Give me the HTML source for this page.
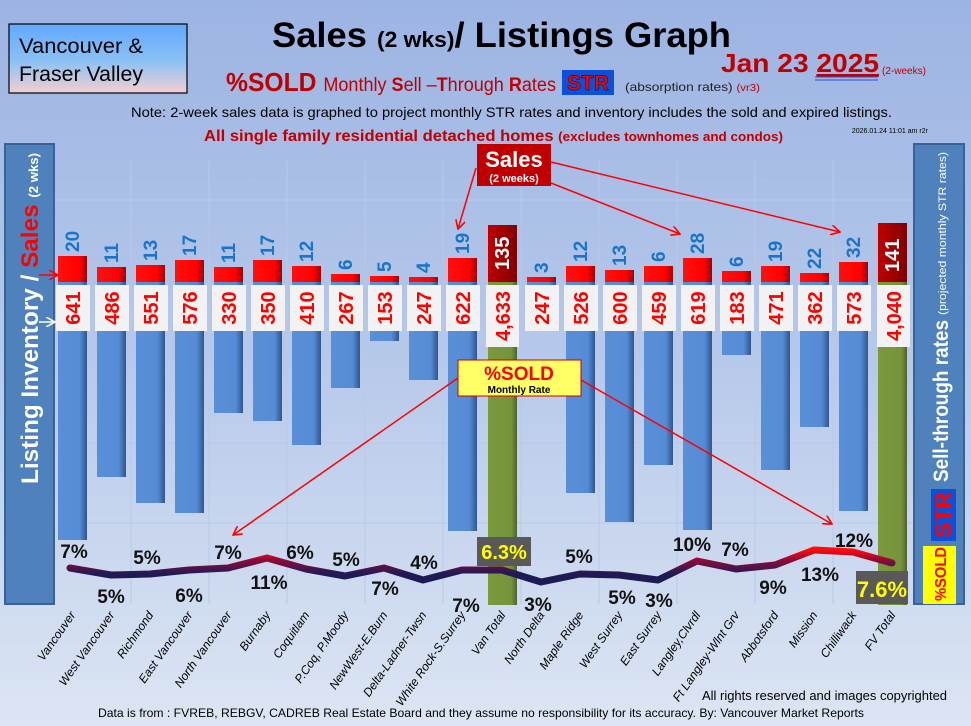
<!DOCTYPE html>
<html><head><meta charset="utf-8"><style>
html,body{margin:0;padding:0}
body{width:971px;height:726px;overflow:hidden;background:#a4b9e4}
svg{display:block}
text{font-family:"Liberation Sans",sans-serif}
</style></head><body>
<svg width="971" height="726" viewBox="0 0 971 726" xmlns="http://www.w3.org/2000/svg">
<defs>
<linearGradient id="bg" x1="0" y1="0" x2="0" y2="1"><stop offset="0" stop-color="#9cb4e3"/><stop offset="0.5" stop-color="#b7c9ea"/><stop offset="1" stop-color="#dce5f3"/></linearGradient>
<linearGradient id="vb" x1="0" y1="0" x2="0" y2="1"><stop offset="0" stop-color="#62a8ff"/><stop offset="0.55" stop-color="#8cc2f4"/><stop offset="1" stop-color="#f6cdd2"/></linearGradient>
<linearGradient id="blue" x1="0" y1="0" x2="1" y2="0"><stop offset="0" stop-color="#5a8fd8"/><stop offset="0.75" stop-color="#558cd5"/><stop offset="1" stop-color="#2f5490"/></linearGradient>
<linearGradient id="red" x1="0" y1="0" x2="1" y2="0"><stop offset="0" stop-color="#ff1010"/><stop offset="0.75" stop-color="#ff0000"/><stop offset="1" stop-color="#a00000"/></linearGradient>
<linearGradient id="dred" x1="0" y1="0" x2="1" y2="0"><stop offset="0" stop-color="#c00000"/><stop offset="1" stop-color="#800000"/></linearGradient>
<linearGradient id="grn" x1="0" y1="0" x2="1" y2="0"><stop offset="0" stop-color="#7a9a3c"/><stop offset="0.8" stop-color="#76933c"/><stop offset="1" stop-color="#4f6428"/></linearGradient>
<linearGradient id="ln" gradientUnits="userSpaceOnUse" x1="0" y1="550" x2="0" y2="574"><stop offset="0" stop-color="#ff0a0a"/><stop offset="0.45" stop-color="#8a0a3a"/><stop offset="1" stop-color="#1e1a55"/></linearGradient>
<marker id="ar" markerWidth="10" markerHeight="10" refX="9" refY="5" orient="auto" markerUnits="userSpaceOnUse"><path d="M0,0 L9,5 L0,10" fill="none" stroke="#ff0000" stroke-width="1.6"/></marker>
<marker id="aw" markerWidth="10" markerHeight="10" refX="9" refY="5" orient="auto" markerUnits="userSpaceOnUse"><path d="M0,0 L9,5 L0,10" fill="none" stroke="#fff" stroke-width="1.6"/></marker>
</defs>
<rect width="971" height="726" fill="url(#bg)"/>

<!-- header -->
<rect x="9" y="24" width="178" height="69" fill="url(#vb)" stroke="#000" stroke-width="1.2"/>
<text x="19" y="53" font-size="21" fill="#000" textLength="124" lengthAdjust="spacingAndGlyphs">Vancouver &amp;</text>
<text x="19" y="81" font-size="21" fill="#000" textLength="124" lengthAdjust="spacingAndGlyphs">Fraser Valley</text>
<text x="272" y="47" font-size="35" font-weight="bold" fill="#000" textLength="459" lengthAdjust="spacingAndGlyphs">Sales <tspan font-size="22">(2 wks)</tspan>/ Listings Graph</text>
<text x="226" y="91" font-size="26" font-weight="bold" fill="#c00000" textLength="330" lengthAdjust="spacingAndGlyphs">%SOLD <tspan font-size="19" font-weight="normal">Monthly <tspan font-weight="bold">S</tspan>ell –<tspan font-weight="bold">T</tspan>hrough <tspan font-weight="bold">R</tspan>ates</tspan></text>
<rect x="562" y="70" width="52" height="25" fill="#0c4fd9"/>
<text x="588" y="90" text-anchor="middle" font-size="21" font-weight="bold" fill="#ff0000" stroke="#000" stroke-width="0.4">STR</text>
<text x="625" y="91" font-size="12" fill="#222" textLength="135" lengthAdjust="spacingAndGlyphs">(absorption rates) <tspan fill="#c00000" font-size="10">(vr3)</tspan></text>
<text x="721" y="72" font-size="26" font-weight="bold" fill="#c00000" textLength="158" lengthAdjust="spacingAndGlyphs">Jan 23 <tspan text-decoration="underline">2025</tspan></text>
<line x1="815" y1="77" x2="878" y2="77" stroke="#2a4fd9" stroke-width="1"/>
<line x1="815" y1="80" x2="878" y2="80" stroke="#2a4fd9" stroke-width="1"/>
<text x="882" y="74" font-size="10" fill="#c00000">(2-weeks)</text>
<text x="131" y="117" font-size="14" fill="#000" textLength="761" lengthAdjust="spacingAndGlyphs">Note: 2-week sales data is graphed to project monthly STR rates and inventory includes the sold and expired listings.</text>
<text x="204" y="141" font-size="16" font-weight="bold" fill="#c00000" textLength="579" lengthAdjust="spacingAndGlyphs">All single family residential detached homes <tspan font-size="13">(excludes townhomes and condos)</tspan></text>
<text x="928" y="133" text-anchor="end" font-size="7" fill="#000">2026.01.24 11:01 am r2r</text>

<!-- gridlines -->
<g stroke="#b8c9e8" stroke-width="1">
<line x1="131" y1="160" x2="131" y2="604"/><line x1="209" y1="160" x2="209" y2="604"/><line x1="287" y1="160" x2="287" y2="604"/><line x1="365" y1="160" x2="365" y2="604"/><line x1="443" y1="160" x2="443" y2="604"/><line x1="521" y1="160" x2="521" y2="604"/><line x1="599" y1="160" x2="599" y2="604"/><line x1="677" y1="160" x2="677" y2="604"/><line x1="755" y1="160" x2="755" y2="604"/><line x1="833" y1="160" x2="833" y2="604"/>
<line x1="55" y1="200" x2="912" y2="200"/><line x1="55" y1="362" x2="912" y2="362"/><line x1="55" y1="443" x2="912" y2="443"/><line x1="55" y1="523" x2="912" y2="523"/>
</g>

<!-- blue bars -->
<g fill="url(#blue)">
<rect x="58" y="282" width="29" height="258"/>
<rect x="97" y="282" width="29" height="195"/>
<rect x="136" y="282" width="29" height="221"/>
<rect x="175" y="282" width="29" height="231"/>
<rect x="214" y="282" width="29" height="131"/>
<rect x="253" y="282" width="29" height="139"/>
<rect x="292" y="282" width="29" height="163"/>
<rect x="331" y="282" width="29" height="106"/>
<rect x="370" y="282" width="29" height="59"/>
<rect x="409" y="282" width="29" height="98"/>
<rect x="448" y="282" width="29" height="249"/>
<rect x="527" y="282" width="29" height="49"/>
<rect x="566" y="282" width="29" height="211"/>
<rect x="605" y="282" width="29" height="240"/>
<rect x="644" y="282" width="29" height="183"/>
<rect x="683" y="282" width="29" height="248"/>
<rect x="722" y="282" width="29" height="73"/>
<rect x="761" y="282" width="29" height="188"/>
<rect x="800" y="282" width="29" height="145"/>
<rect x="839" y="282" width="29" height="229"/>
</g>
<rect x="488" y="282" width="29" height="323" fill="url(#grn)"/>
<rect x="878" y="282" width="29" height="323" fill="url(#grn)"/>
<g fill="url(#red)">
<rect x="58" y="256" width="29" height="26"/>
<rect x="97" y="267" width="29" height="15"/>
<rect x="136" y="265" width="29" height="17"/>
<rect x="175" y="260" width="29" height="22"/>
<rect x="214" y="267" width="29" height="15"/>
<rect x="253" y="260" width="29" height="22"/>
<rect x="292" y="266" width="29" height="16"/>
<rect x="331" y="274" width="29" height="8"/>
<rect x="370" y="276" width="29" height="6"/>
<rect x="409" y="277" width="29" height="5"/>
<rect x="448" y="258" width="29" height="24"/>
<rect x="527" y="277" width="29" height="5"/>
<rect x="566" y="266" width="29" height="16"/>
<rect x="605" y="270" width="29" height="12"/>
<rect x="644" y="266" width="29" height="16"/>
<rect x="683" y="258" width="29" height="24"/>
<rect x="722" y="271" width="29" height="11"/>
<rect x="761" y="266" width="29" height="16"/>
<rect x="800" y="273" width="29" height="9"/>
<rect x="839" y="262" width="29" height="20"/>
</g>
<rect x="488" y="225" width="29" height="57" fill="url(#dred)"/>
<rect x="878" y="223" width="29" height="59" fill="url(#dred)"/>

<g font-size="19" font-weight="bold" fill="#1a74c8">
<text transform="translate(79,252) rotate(-90)">20</text>
<text transform="translate(118,263) rotate(-90)">11</text>
<text transform="translate(157,261) rotate(-90)">13</text>
<text transform="translate(196,256) rotate(-90)">17</text>
<text transform="translate(235,263) rotate(-90)">11</text>
<text transform="translate(274,256) rotate(-90)">17</text>
<text transform="translate(313,262) rotate(-90)">12</text>
<text transform="translate(352,270) rotate(-90)">6</text>
<text transform="translate(391,272) rotate(-90)">5</text>
<text transform="translate(430,273) rotate(-90)">4</text>
<text transform="translate(469,254) rotate(-90)">19</text>
<text transform="translate(548,273) rotate(-90)">3</text>
<text transform="translate(587,262) rotate(-90)">12</text>
<text transform="translate(626,266) rotate(-90)">13</text>
<text transform="translate(665,262) rotate(-90)">6</text>
<text transform="translate(704,254) rotate(-90)">28</text>
<text transform="translate(743,267) rotate(-90)">6</text>
<text transform="translate(782,262) rotate(-90)">19</text>
<text transform="translate(821,269) rotate(-90)">22</text>
<text transform="translate(860,258) rotate(-90)">32</text>
</g>
<g font-size="20" font-weight="bold" fill="#fff">
<text transform="translate(509,270) rotate(-90)">135</text>
<text transform="translate(899,272) rotate(-90)">141</text>
</g>

<g fill="#f2f2f2">
<rect x="56" y="285" width="34" height="46"/><rect x="95" y="285" width="34" height="46"/><rect x="134" y="285" width="34" height="46"/><rect x="173" y="285" width="34" height="46"/><rect x="212" y="285" width="34" height="46"/><rect x="251" y="285" width="34" height="46"/><rect x="290" y="285" width="34" height="46"/><rect x="329" y="285" width="34" height="46"/><rect x="368" y="285" width="34" height="46"/><rect x="407" y="285" width="34" height="46"/><rect x="446" y="285" width="34" height="46"/>
<rect x="486" y="285" width="33" height="62"/>
<rect x="525" y="285" width="34" height="46"/><rect x="564" y="285" width="34" height="46"/><rect x="603" y="285" width="34" height="46"/><rect x="642" y="285" width="34" height="46"/><rect x="681" y="285" width="34" height="46"/><rect x="720" y="285" width="34" height="46"/><rect x="759" y="285" width="34" height="46"/><rect x="798" y="285" width="34" height="46"/><rect x="837" y="285" width="34" height="46"/>
<rect x="877" y="285" width="33" height="62"/>
</g>
<g font-size="20" font-weight="bold" fill="#ff0000" text-anchor="middle">
<text transform="translate(80,308) rotate(-90)">641</text>
<text transform="translate(119,308) rotate(-90)">486</text>
<text transform="translate(158,308) rotate(-90)">551</text>
<text transform="translate(197,308) rotate(-90)">576</text>
<text transform="translate(236,308) rotate(-90)">330</text>
<text transform="translate(275,308) rotate(-90)">350</text>
<text transform="translate(314,308) rotate(-90)">410</text>
<text transform="translate(353,308) rotate(-90)">267</text>
<text transform="translate(392,308) rotate(-90)">153</text>
<text transform="translate(431,308) rotate(-90)">247</text>
<text transform="translate(470,308) rotate(-90)">622</text>
<text transform="translate(510,316) rotate(-90)">4,633</text>
<text transform="translate(549,308) rotate(-90)">247</text>
<text transform="translate(588,308) rotate(-90)">526</text>
<text transform="translate(627,308) rotate(-90)">600</text>
<text transform="translate(666,308) rotate(-90)">459</text>
<text transform="translate(705,308) rotate(-90)">619</text>
<text transform="translate(744,308) rotate(-90)">183</text>
<text transform="translate(783,308) rotate(-90)">471</text>
<text transform="translate(822,308) rotate(-90)">362</text>
<text transform="translate(861,308) rotate(-90)">573</text>
<text transform="translate(901,316) rotate(-90)">4,040</text>
</g>

<polyline points="70,568 111,575 150,574 189,570 228,568 267,558 306,569 345,576 384,568 423,580 462,570 502,570 541,582 580,574 619,575 658,580 697,561 736,569 775,565 814,550 853,552 892,563" fill="none" stroke="url(#ln)" stroke-width="7" stroke-linejoin="round" stroke-linecap="round"/>

<g font-size="19" font-weight="bold" fill="#111" text-anchor="middle">
<text x="74" y="558">7%</text>
<text x="111" y="603">5%</text>
<text x="147" y="564">5%</text>
<text x="189" y="602">6%</text>
<text x="228" y="559">7%</text>
<text x="269" y="589">11%</text>
<text x="300" y="559">6%</text>
<text x="346" y="566">5%</text>
<text x="385" y="595">7%</text>
<text x="424" y="569">4%</text>
<text x="466" y="612">7%</text>
<text x="538" y="611">3%</text>
<text x="579" y="563">5%</text>
<text x="622" y="604">5%</text>
<text x="659" y="607">3%</text>
<text x="692" y="551">10%</text>
<text x="735" y="556">7%</text>
<text x="773" y="594">9%</text>
<text x="820" y="581">13%</text>
<text x="854" y="547">12%</text>
</g>
<rect x="477" y="537" width="54" height="29" fill="#595959"/>
<text x="504" y="559" text-anchor="middle" font-size="20" font-weight="bold" fill="#ffff00">6.3%</text>
<rect x="856" y="571" width="52" height="33" fill="#595959"/>
<text x="882" y="597" text-anchor="middle" font-size="22" font-weight="bold" fill="#ffff00">7.6%</text>

<rect x="477" y="144" width="74" height="42" fill="#c00000"/>
<text x="514" y="167" text-anchor="middle" font-size="22" font-weight="bold" fill="#fff">Sales</text>
<text x="514" y="182" text-anchor="middle" font-size="11" font-weight="bold" fill="#fff">(2 weeks)</text>
<g stroke="#ff0000" stroke-width="1.5" fill="none">
<line x1="476" y1="168" x2="458" y2="229" marker-end="url(#ar)"/>
<line x1="551" y1="183" x2="680" y2="234" marker-end="url(#ar)"/>
<line x1="551" y1="162" x2="840" y2="232" marker-end="url(#ar)"/>
<line x1="458" y1="378" x2="233" y2="535" marker-end="url(#ar)"/>
<line x1="581" y1="380" x2="832" y2="524" marker-end="url(#ar)"/>
<line x1="935" y1="556" x2="918" y2="573" marker-end="url(#ar)"/>
</g>
<rect x="458" y="360" width="123" height="36" fill="#ffff66" stroke="#d00000" stroke-width="1"/>
<text x="519" y="380" text-anchor="middle" font-size="19" font-weight="bold" fill="#ff0000">%SOLD</text>
<text x="519" y="393" text-anchor="middle" font-size="10" font-weight="bold" fill="#000">Monthly Rate</text>

<rect x="5" y="144" width="49" height="460" fill="#4f81bd" stroke="#3a6296" stroke-width="2"/>
<text transform="translate(38,484) rotate(-90)" font-size="24" font-weight="bold" fill="#fff" textLength="331" lengthAdjust="spacingAndGlyphs">Listing Inventory / <tspan fill="#ff0000">Sales</tspan> <tspan font-size="13">(2  wks)</tspan></text>
<line x1="39" y1="275" x2="58" y2="275" stroke="#ff0000" stroke-width="1.5" marker-end="url(#ar)"/>
<line x1="39" y1="322" x2="55" y2="322" stroke="#fff" stroke-width="1.5" marker-end="url(#aw)"/>

<rect x="914" y="144" width="50" height="460" fill="#4f81bd" stroke="#3a6296" stroke-width="2"/>
<text transform="translate(948,482) rotate(-90)" font-size="21" font-weight="bold" fill="#fff" textLength="162" lengthAdjust="spacingAndGlyphs">Sell-through rates</text>
<text transform="translate(946,315) rotate(-90)" font-size="11" fill="#fff" textLength="163" lengthAdjust="spacingAndGlyphs">(projected monthly STR rates)</text>
<rect x="931" y="489" width="25" height="52" fill="#0c4fd9"/>
<text transform="translate(951,538) rotate(-90)" font-size="22" font-weight="bold" fill="#ff0000" textLength="46" lengthAdjust="spacingAndGlyphs">STR</text>
<rect x="923" y="546" width="33" height="58" fill="#ffff00"/>
<text transform="translate(946,601) rotate(-90)" font-size="16" font-weight="bold" fill="#ff0000" textLength="54" lengthAdjust="spacingAndGlyphs">%SOLD</text>

<g font-size="12" fill="#000" font-style="italic" text-anchor="end">
<text transform="translate(76,615) rotate(-55)">Vancouver</text>
<text transform="translate(115,615) rotate(-55)">West Vancouver</text>
<text transform="translate(154,615) rotate(-55)">Richmond</text>
<text transform="translate(193,615) rotate(-55)">East Vancouver</text>
<text transform="translate(232,615) rotate(-55)">North Vancouver</text>
<text transform="translate(271,615) rotate(-55)">Burnaby</text>
<text transform="translate(310,615) rotate(-55)">Coquitlam</text>
<text transform="translate(349,615) rotate(-55)">P.Coq, P.Moody</text>
<text transform="translate(388,615) rotate(-55)">NewWest-E.Burn</text>
<text transform="translate(427,615) rotate(-55)">Delta-Ladner-Twsn</text>
<text transform="translate(466,615) rotate(-55)">White Rock-S.Surrey</text>
<text transform="translate(506,615) rotate(-55)">Van Total</text>
<text transform="translate(545,615) rotate(-55)">North Delta</text>
<text transform="translate(584,615) rotate(-55)">Maple Ridge</text>
<text transform="translate(623,615) rotate(-55)">West Surrey</text>
<text transform="translate(662,615) rotate(-55)">East Surrey</text>
<text transform="translate(701,615) rotate(-55)">Langley,Clvrdl</text>
<text transform="translate(740,615) rotate(-55)">Ft Langley-Wlnt Grv</text>
<text transform="translate(779,615) rotate(-55)">Abbotsford</text>
<text transform="translate(818,615) rotate(-55)">Mission</text>
<text transform="translate(857,615) rotate(-55)">Chilliwack</text>
<text transform="translate(896,615) rotate(-55)">FV Total</text>
</g>
<text x="702" y="700" font-size="13" fill="#000" textLength="245" lengthAdjust="spacingAndGlyphs">All rights reserved and  images copyrighted</text>
<text x="98" y="717" font-size="12" fill="#000" textLength="766" lengthAdjust="spacingAndGlyphs">Data is from : FVREB, REBGV, CADREB Real Estate Board and they assume no responsibility for its accuracy. By: Vancouver Market Reports</text>
</svg>
</body></html>
